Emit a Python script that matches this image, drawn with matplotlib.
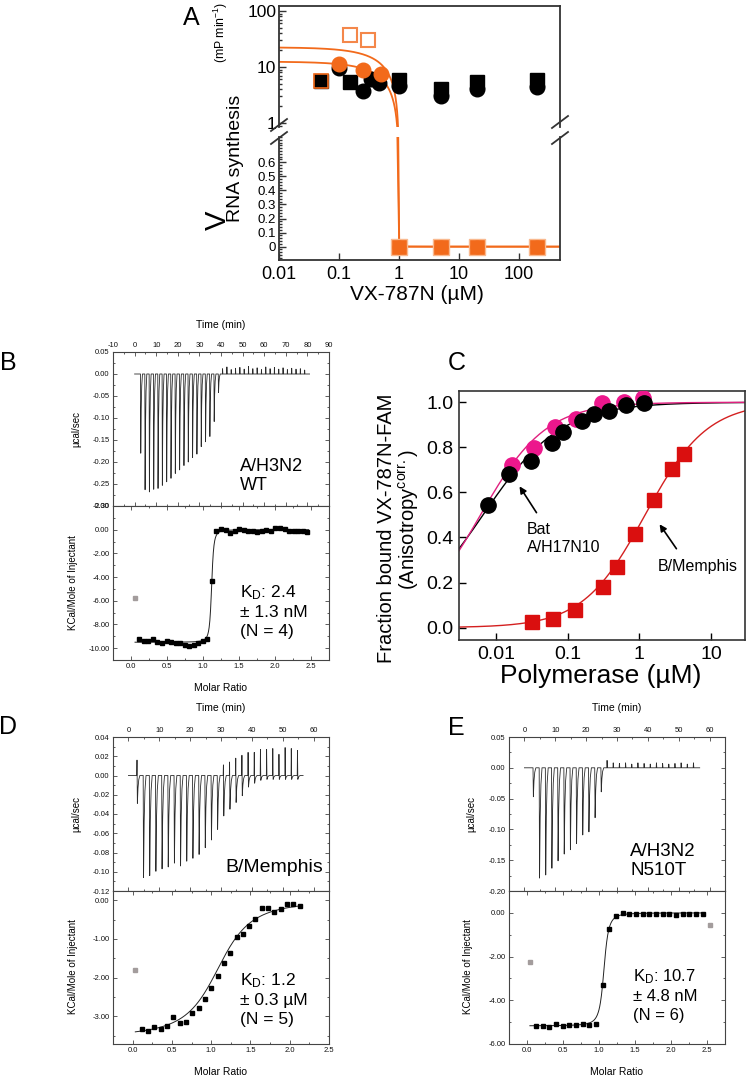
import matplotlib
matplotlib.use("Agg")
import matplotlib.pyplot as plt
import numpy as np
from matplotlib.lines import Line2D
from matplotlib.ticker import (FuncFormatter, LogLocator, MultipleLocator,
                               NullFormatter, NullLocator)

plt.rcParams['font.family'] = ['Liberation Sans', 'DejaVu Sans']
plt.rcParams['mathtext.fontset'] = 'custom'
plt.rcParams['mathtext.rm'] = 'Liberation Sans'
plt.rcParams['mathtext.it'] = 'Liberation Sans:italic'
plt.rcParams['axes.unicode_minus'] = False

# ---------------- data ----------------
# Panel A: RNA synthesis rate vs VX-787N
A_OPEN_X = [0.15, 0.3]
A_OPEN_Y = [37, 30]
A_ORANGE_X = [0.1, 0.25, 0.5]
A_ORANGE_Y = [11.3, 8.9, 7.5]
A_SQ_X = [0.05, 0.15, 1, 5, 20, 200]
A_SQ_Y = [5.6, 5.3, 5.9, 4.1, 5.5, 5.9]
A_CIRC_X = [0.1, 0.25, 0.34, 0.47, 1, 5, 20, 200]
A_CIRC_Y = [9.8, 3.7, 6.0, 5.1, 4.5, 3.1, 4.0, 4.4]
A_ZERO_X = [1, 5, 20, 200]
A_ZERO_Y = [0, 0, 0, 0]
A_FIT_V0 = [22.5, 12.5]     # tight-binding fits, top rates
A_FIT_E = 1.0               # enzyme conc (uM)
A_FIT_KI = 1e-5

# Panel C: fluorescence anisotropy binding
C_PINK_X = [0.0164, 0.034, 0.066, 0.129, 0.30, 0.61, 1.12]
C_PINK_Y = [0.72, 0.796, 0.892, 0.926, 0.995, 1.003, 1.018]
C_BLACK_X = [0.0076, 0.015, 0.030, 0.060, 0.086, 0.158, 0.23, 0.38, 0.65, 1.17]
C_BLACK_Y = [0.544, 0.68, 0.74, 0.818, 0.867, 0.918, 0.948, 0.961, 0.988, 0.998]
C_RED_X = [0.031, 0.062, 0.124, 0.307, 0.49, 0.86, 1.59, 2.9, 4.24]
C_RED_Y = [0.027, 0.04, 0.079, 0.182, 0.27, 0.415, 0.566, 0.704, 0.769]
C_FIT = {'pink': (0.006, 0.95), 'black': (0.0065, 0.8), 'red': (1.2, 1.0)}

# Panel B: ITC A/H3N2 WT
B_T0, B_DT, B_TEND = 2.65, 2.0, 81.0
B_NEG = [-0.18, -0.263, -0.268, -0.262, -0.26, -0.253, -0.245, -0.237, -0.226,
         -0.218, -0.208, -0.2, -0.19, -0.182, -0.165, -0.154, -0.142, -0.108,
         -0.042] + [0] * 20
B_POS = [0] * 19 + [0.012, 0.016, 0.010, 0.013, 0.015, 0.011, 0.017, 0.012,
                    0.014, 0.010, 0.016, 0.012, 0.015, 0.011, 0.014, 0.010,
                    0.013, 0.011, 0.012, 0.009]
B_RATIO0, B_DRATIO = 0.116, 0.063
B_HEAT = [-9.2, -9.4, -9.4, -9.25, -9.5, -9.55, -9.4, -9.5, -9.55, -9.55, -9.75,
          -9.85, -9.7, -9.55, -9.4, -9.25, -4.3, -0.14, 0.06, -0.03, -0.28,
          -0.08, 0.06, 0.0, -0.08, -0.14, -0.17, -0.08, -0.03, -0.14, 0.11,
          0.14, 0.06, -0.08, -0.14, -0.08, -0.14, -0.19]
B_GREY = ([0.056], [-5.75])
B_FIT = (1.12, 0.0002, -9.5)   # n, 1/c, dH

# Panel D: ITC B/Memphis
D_T0, D_DT, D_TEND = 2.7, 2.0, 56.6
D_NEG = [-0.029, -0.106, -0.104, -0.0995, -0.097, -0.095, -0.091, -0.094,
         -0.089, -0.086, -0.082, -0.075, -0.067, -0.056, -0.042, -0.035,
         -0.028, -0.021, -0.012, -0.008, -0.005, -0.004, -0.004, -0.004,
         -0.004, -0.004, -0.004]
D_POS = [0.016] + [0] * 13 + [0.011, 0.014, 0.018, 0.021, 0.024, 0.024, 0.027,
                              0.027, 0.028, 0.022, 0.029, 0.028, 0.026]
D_RATIO0, D_DRATIO = 0.115, 0.0805
D_HEAT = [-3.34, -3.38, -3.28, -3.34, -3.25, -3.02, -3.18, -3.15, -2.93, -2.78,
          -2.55, -2.28, -1.95, -1.63, -1.36, -0.96, -0.87, -0.66, -0.48, -0.21,
          -0.21, -0.31, -0.22, -0.10, -0.10, -0.15]
D_GREY = ([0.034], [-1.81])
D_FIT = (1.13, 0.04, -3.55)

# Panel E: ITC A/H3N2 N510T
E_T0, E_DT, E_TEND = 2.7, 2.0, 56.8
E_NEG = [-0.047, -0.179, -0.174, -0.163, -0.151, -0.140, -0.133, -0.123,
         -0.109, -0.104, -0.081, -0.039] + [0] * 15
E_POS = [0] * 12 + [0.012, 0.008, 0.007, 0.008, 0.006, 0.008, 0.007, 0.006,
                    0.008, 0.007, 0.006, 0.007, 0.008, 0.006, 0.008]
E_RATIO0, E_DRATIO = 0.125, 0.0926
E_HEAT = [-5.18, -5.18, -5.22, -5.10, -5.18, -5.14, -5.12, -5.07, -5.13, -5.10,
          -3.32, -0.76, -0.15, 0.0, -0.05, -0.05, -0.05, -0.05, -0.05, -0.05,
          -0.05, -0.09, -0.05, -0.05, -0.05, -0.05]
E_GREY = ([0.04, 2.54], [-2.23, -0.57])
E_FIT = (1.07, 0.001, -5.17)

ORANGE = '#F26A1B'
PINK = '#EC178C'
RED = '#DA0F0F'

# ---------------- layout helpers ----------------
W, H = 746, 1077
fig = plt.figure(figsize=(W / 100, H / 100), dpi=100)


def rect(l, t, r, b):
    return [l / W, 1 - b / H, (r - l) / W, (b - t) / H]


def text(x, y, s, **kw):
    kw.setdefault('ha', 'center')
    kw.setdefault('va', 'center')
    fig.text(x / W, 1 - y / H, s, **kw)


def fmt(d):
    def f(v, p):
        if abs(v) < 1e-9:
            v = 0.0
        return f'{v:.{d}f}'
    return FuncFormatter(f)


def wiseman(x, n, r, dh):
    xr = x / n
    return dh * (0.5 + (1 - xr - r) / (2 * np.sqrt((1 + xr + r) ** 2 - 4 * xr)))


def thermogram(t0, dt, neg, pos, t_end):
    ts, ys = [0.0], [0.0]
    for i, (n, p) in enumerate(zip(neg, pos)):
        t = t0 + dt * i
        ts += [t, t + 0.08, t + 0.2, t + 0.4, t + 0.65, t + 1.0]
        ys += [0.0, p, n, 0.45 * n, 0.15 * n, 0.0]
    ts.append(t_end)
    ys.append(0.0)
    return np.array(ts), np.array(ys)


# ---------------- panel A ----------------
axA = fig.add_axes(rect(279, 6, 560, 127))
axA2 = fig.add_axes(rect(279, 137, 560, 260))
conc = np.unique(np.concatenate([np.logspace(-2, np.log10(480), 1500),
                                 np.linspace(0.8, 1.3, 3000)]))
s = A_FIT_E + conc + A_FIT_KI
free = 1 - (s - np.sqrt(s ** 2 - 4 * A_FIT_E * conc)) / (2 * A_FIT_E)
for v0 in A_FIT_V0:
    v = v0 * free
    axA.plot(conc, np.where(v > 0, v, np.nan), color=ORANGE, lw=1.3, zorder=2)
    axA2.plot(conc, v, color=ORANGE, lw=1.3, zorder=2)

axA.plot(A_OPEN_X, A_OPEN_Y, 's', ms=10, mfc='none', mec='#F4874A', mew=1.5, zorder=3)
axA.plot(A_SQ_X, A_SQ_Y, 's', ms=9.5, color='black', zorder=3)
axA.plot(A_SQ_X[:1], A_SQ_Y[:1], 's', ms=9.5, mfc='black', mec=ORANGE, mew=1.2, zorder=3)
axA.plot(A_CIRC_X, A_CIRC_Y, 'o', ms=10.5, color='black', zorder=3)
axA.plot(A_ORANGE_X, A_ORANGE_Y, 'o', ms=10.5, color=ORANGE, zorder=4)
axA2.plot(A_ZERO_X, A_ZERO_Y, 's', ms=11, mfc=ORANGE, mec='#F9B98F', mew=1, zorder=3)
axA2.plot(A_ZERO_X, A_ZERO_Y, 'o', ms=9, color=ORANGE, zorder=4)

for ax in (axA, axA2):
    ax.set_xscale('log')
    ax.set_xlim(0.01, 480)
    for sp in ax.spines.values():
        sp.set_linewidth(1.3)
        sp.set_color('#333333')
    ax.tick_params(which='both', direction='in', width=1.0, colors='#333333',
                   labelcolor='black', top=False, right=False)
    ax.tick_params(which='major', length=5)
    ax.tick_params(which='minor', length=2.5)
axA.set_yscale('log')
axA.set_ylim(0.85, 123)
axA.spines['bottom'].set_visible(False)
axA.set_yticks([1, 10, 100])
axA.set_yticklabels(['1', '10', '100'])
axA.yaxis.set_minor_locator(LogLocator(subs=np.arange(2, 10)))
axA.yaxis.set_minor_formatter(NullFormatter())
axA.xaxis.set_major_locator(NullLocator())
axA.xaxis.set_minor_locator(NullLocator())
axA.tick_params(axis='y', labelsize=12.5, pad=2)

axA2.spines['top'].set_visible(False)
axA2.set_ylim(-0.095, 0.78)
axA2.set_yticks(np.arange(0, 0.61, 0.1))
axA2.set_yticklabels(['0', '0.1', '0.2', '0.3', '0.4', '0.5', '0.6'])
axA2.yaxis.set_minor_locator(MultipleLocator(0.02))
axA2.tick_params(axis='y', labelsize=9.5, pad=2)
axA2.set_xticks([0.01, 0.1, 1, 10, 100])
axA2.set_xticklabels(['0.01', '0.1', '1', '10', '100'])
axA2.xaxis.set_minor_locator(NullLocator())
axA2.tick_params(axis='x', labelsize=13, pad=4)

for cx, cy in [(279, 125), (279, 138), (560, 122), (560, 138)]:
    fig.add_artist(Line2D([(cx - 8) / W, (cx + 8) / W],
                          [1 - (cy + 6) / H, 1 - (cy - 6) / H],
                          color='#333333', lw=1.3))

text(417, 294, 'VX-787N (µM)', fontsize=15)
text(218, 220, 'V', fontsize=21, rotation=90)
text(236, 158, 'RNA synthesis', fontsize=14, rotation=90)
text(221, 32, '(mP min$^{-1}$)', fontsize=8.8, rotation=90)
text(191, 18, 'A', fontsize=18)

# ---------------- panel C ----------------
axC = fig.add_axes(rect(459, 391, 745, 640))
xs = np.logspace(np.log10(0.003), np.log10(30), 400)
for key, col in [('black', 'black'), ('pink', '#E0207F'), ('red', '#D42020')]:
    k, h = C_FIT[key]
    axC.plot(xs, xs ** h / (k ** h + xs ** h), color=col, lw=1.0, zorder=2)
axC.plot(C_PINK_X, C_PINK_Y, 'o', ms=11, color=PINK, zorder=3)
axC.plot(C_BLACK_X, C_BLACK_Y, 'o', ms=11, color='black', zorder=4)
axC.plot(C_RED_X, C_RED_Y, 's', ms=9.5, color=RED, zorder=3)
axC.set_xscale('log')
axC.set_xlim(0.003, 30)
axC.set_ylim(-0.055, 1.05)
axC.set_xticks([0.01, 0.1, 1, 10])
axC.set_xticklabels(['0.01', '0.1', '1', '10'])
axC.xaxis.set_minor_locator(NullLocator())
axC.yaxis.set_major_locator(MultipleLocator(0.2))
axC.yaxis.set_major_formatter(fmt(1))
for sp in axC.spines.values():
    sp.set_linewidth(1.2)
    sp.set_color('#333333')
axC.tick_params(direction='in', length=5, width=1.0, labelsize=14, pad=4)

axC.annotate('', xy=(518, H - 484), xytext=(538, H - 515),
             xycoords='figure pixels', textcoords='figure pixels',
             arrowprops=dict(arrowstyle='-|>', color='black', lw=1.2, mutation_scale=10))
axC.annotate('', xy=(658, H - 522), xytext=(678, H - 551),
             xycoords='figure pixels', textcoords='figure pixels',
             arrowprops=dict(arrowstyle='-|>', color='black', lw=1.2, mutation_scale=10))
text(527, 539, 'Bat\nA/H17N10', fontsize=11.5, ha='left', linespacing=1.25)
text(658, 566, 'B/Memphis', fontsize=11.5, ha='left')
text(601, 676, 'Polymerase (µM)', fontsize=19)
text(386, 528, 'Fraction bound VX-787N-FAM', fontsize=14.5, rotation=90)
text(409, 520, '(Anisotropy$^{\\mathrm{corr.}}$)', fontsize=14.5, rotation=90)
text(457, 363, 'C', fontsize=18)


# ---------------- ITC panels ----------------
def itc(top, bot, t0, dt, t_end, neg, pos, t_lim, t_major, yt_lim, yt_major,
        ratio0, dratio, heat, grey, fit, xb_lim, yb_lim, yb_major):
    ax_t = fig.add_axes(rect(*top))
    ax_b = fig.add_axes(rect(*bot))
    tt, yy = thermogram(t0, dt, neg, pos, t_end)
    ax_t.plot(tt, yy, color='#2a2a2a', lw=0.6)
    ratio = ratio0 + dratio * np.arange(len(heat))
    xf = np.linspace(grey[0][0], ratio[-1] + 0.02, 500)
    ax_b.plot(xf, wiseman(xf, *fit), color='#222222', lw=0.7, zorder=2)
    ax_b.plot(ratio, heat, 's', ms=3.4, color='black', zorder=3)
    ax_b.plot(grey[0], grey[1], 's', ms=3.4, color='#A39C9C', zorder=3)

    ax_t.set_xlim(t_lim)
    ax_t.set_ylim(yt_lim)
    ax_t.xaxis.set_major_locator(MultipleLocator(t_major))
    ax_t.xaxis.set_minor_locator(MultipleLocator(t_major / 2))
    ax_t.xaxis.set_major_formatter(fmt(0))
    ax_t.yaxis.set_major_locator(MultipleLocator(yt_major))
    ax_t.yaxis.set_minor_locator(MultipleLocator(yt_major / 2))
    ax_t.yaxis.set_major_formatter(fmt(2))
    ax_b.set_xlim(xb_lim)
    ax_b.set_ylim(yb_lim)
    ax_b.xaxis.set_major_locator(MultipleLocator(0.5))
    ax_b.xaxis.set_minor_locator(MultipleLocator(0.25))
    ax_b.xaxis.set_major_formatter(fmt(1))
    ax_b.yaxis.set_major_locator(MultipleLocator(yb_major))
    ax_b.yaxis.set_minor_locator(MultipleLocator(yb_major / 2))
    ax_b.yaxis.set_major_formatter(fmt(2))
    for ax in (ax_t, ax_b):
        for sp in ax.spines.values():
            sp.set_linewidth(0.8)
            sp.set_color('#444444')
        ax.tick_params(which='both', direction='in', top=True, bottom=True,
                       left=True, right=True, width=0.6, colors='#444444',
                       labelcolor='#111111', labelsize=5.5, pad=2.5)
        ax.tick_params(which='major', length=3)
        ax.tick_params(which='minor', length=1.6)
    ax_t.tick_params(labeltop=True, labelbottom=False)
    return ax_t, ax_b


itc((113, 352, 329, 506), (113, 506, 329, 660), B_T0, B_DT, B_TEND, B_NEG, B_POS,
    (-10, 90), 10, (-0.30, 0.05), 0.05, B_RATIO0, B_DRATIO, B_HEAT, B_GREY, B_FIT,
    (-0.25, 2.75), (-11, 2), 2)
itc((113, 737, 329, 891), (113, 891, 329, 1044), D_T0, D_DT, D_TEND, D_NEG, D_POS,
    (-5, 65), 10, (-0.12, 0.04), 0.02, D_RATIO0, D_DRATIO, D_HEAT, D_GREY, D_FIT,
    (-0.25, 2.5), (-3.72, 0.24), 1)
itc((509, 737, 725, 891), (509, 891, 725, 1044), E_T0, E_DT, E_TEND, E_NEG, E_POS,
    (-5, 65), 10, (-0.20, 0.05), 0.05, E_RATIO0, E_DRATIO, E_HEAT, E_GREY, E_FIT,
    (-0.25, 2.75), (-6, 1), 2)

for cx, top_y, mid_y, bot_y, lx in [(221, 325, 429, 583, 76),
                                     (221, 708, 814, 967, 76),
                                     (617, 708, 814, 967, 471)]:
    text(cx, top_y, 'Time (min)', fontsize=7.5)
    text(cx, bot_y + 105, 'Molar Ratio', fontsize=7.5)
    text(lx, mid_y, 'µcal/sec', fontsize=7, rotation=90)
    text(lx - 3, bot_y, 'KCal/Mole of Injectant', fontsize=7, rotation=90)

text(8, 363, 'B', fontsize=18)
text(8, 727, 'D', fontsize=18)
text(456, 728, 'E', fontsize=18)

text(240, 476, 'A/H3N2\nWT', fontsize=13, ha='left', linespacing=1.2)
text(323, 867, 'B/Memphis', fontsize=14, ha='right')
text(630, 861, 'A/H3N2\nN510T', fontsize=13.5, ha='left', linespacing=1.2)
text(240, 611, 'K$_{\\mathrm{D}}$: 2.4\n± 1.3 nM\n(N = 4)', fontsize=12.5,
     ha='left', linespacing=1.3)
text(240, 999, 'K$_{\\mathrm{D}}$: 1.2\n± 0.3 µM\n(N = 5)', fontsize=12.5,
     ha='left', linespacing=1.3)
text(633, 995, 'K$_{\\mathrm{D}}$: 10.7\n± 4.8 nM\n(N = 6)', fontsize=12,
     ha='left', linespacing=1.3)

fig.savefig('out.png', dpi=100)
